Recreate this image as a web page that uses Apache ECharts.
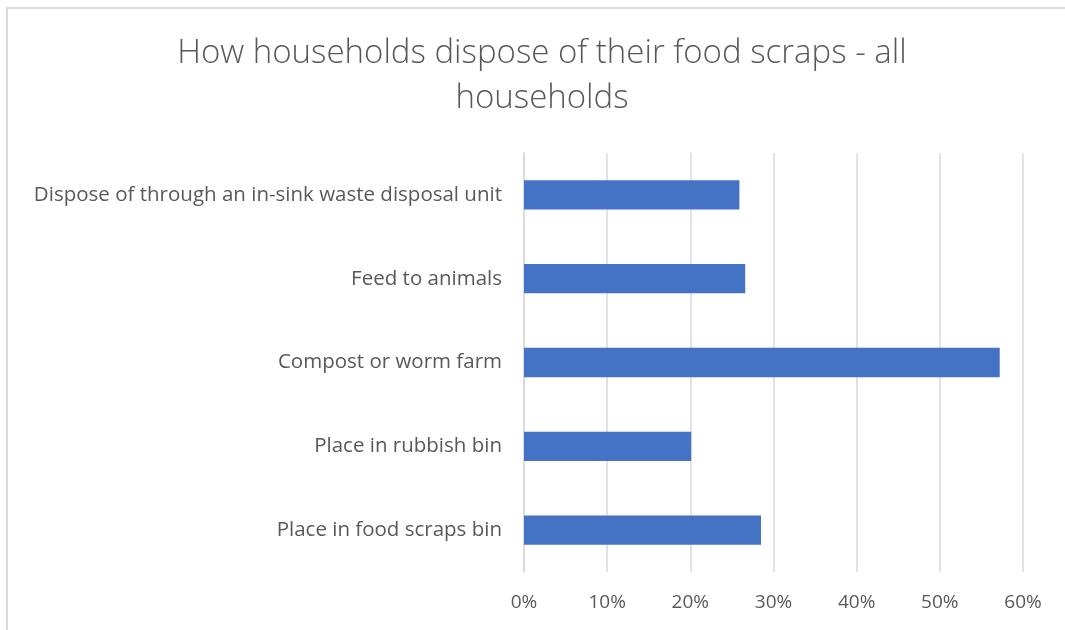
<!DOCTYPE html>
<html>
<head>
<meta charset="utf-8">
<script src="https://cdn.jsdelivr.net/npm/echarts@6/dist/echarts.min.js"></script>
<style>
  html, body { margin: 0; padding: 0; background: #ffffff; }
  #chart { width: 1065px; height: 630px; }
</style>
</head>
<body>
<div id="chart"></div>
<script>
// Disposal methods, listed bottom to top as they appear on the category axis
const categories = [
  'Place in food scraps bin',
  'Place in rubbish bin',
  'Compost or worm farm',
  'Feed to animals',
  'Dispose of through an in-sink waste disposal unit'
];
// Share of all households using each method (%)
const shares = [28.5, 20.1, 57.2, 26.6, 25.9];
// Percentage axis ticks
const tickValues = [0, 10, 20, 30, 40, 50, 60];

const chart = echarts.init(document.getElementById('chart'), null, { renderer: 'canvas' });

const font = '"Open Sans", "Noto Sans", sans-serif';

chart.setOption({
  animation: false,
  backgroundColor: '#ffffff',
  graphic: [{
    type: 'rect',
    shape: { x: 7, y: 8, width: 1100, height: 700 },
    style: { fill: 'none', stroke: '#d9d9d9', lineWidth: 2 },
    silent: true,
    z: -1
  }],
  title: {
    text: 'How households dispose of their food scraps - all\nhouseholds',
    left: 537,
    top: 26,
    textAlign: 'center',
    textStyle: {
      fontFamily: font,
      fontWeight: 300,
      fontSize: 33,
      lineHeight: 45,
      color: '#595959'
    }
  },
  grid: { left: 524, right: 42, top: 153, bottom: 58, containLabel: false },
  xAxis: {
    type: 'value',
    min: tickValues[0],
    max: tickValues[tickValues.length - 1],
    interval: 10,
    axisLine: { show: false },
    axisTick: { show: false },
    splitLine: { show: true, lineStyle: { color: '#d9d9d9', width: 1.5 } },
    axisLabel: {
      formatter: v => v + '%',
      fontFamily: font,
      fontSize: 19,
      color: '#595959',
      margin: 21
    }
  },
  yAxis: {
    type: 'category',
    data: categories,
    axisLine: { show: true, lineStyle: { color: '#d9d9d9', width: 1.5 } },
    axisTick: { show: false },
    axisLabel: {
      fontFamily: font,
      fontSize: 20.5,
      color: '#595959',
      margin: 22
    }
  },
  series: [{
    type: 'bar',
    data: shares,
    barCategoryGap: '65%',
    itemStyle: { color: '#4472c4' }
  }]
});
</script>
</body>
</html>
